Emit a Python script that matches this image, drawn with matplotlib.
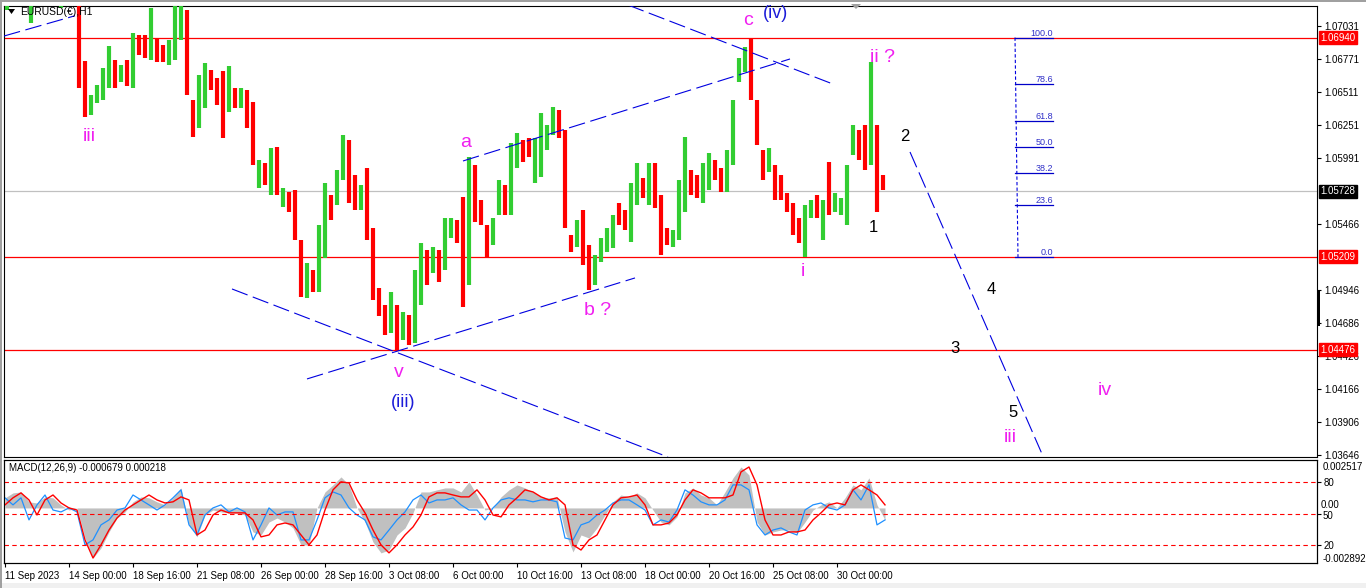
import numpy as np
import matplotlib
matplotlib.use("Agg")
import matplotlib.pyplot as plt
from matplotlib.patches import Rectangle, Polygon

plt.rcParams["font.family"] = ["Liberation Sans", "DejaVu Sans"]

# EURUSD H1 in 6-hour blocks starting 11 Sep 2023
bar_high = [1.0735, 1.0740, 1.0745, 1.0742, 1.0738, 1.0740, 1.0745, 1.0750, 1.0745, 1.0740,
            1.0745, 1.0748, 1.0740, 1.06755, 1.06487, 1.06566, 1.06700, 1.06873, 1.06763, 1.06723,
            1.06763, 1.06976, 1.06960, 1.06960, 1.07173, 1.06936, 1.06881, 1.06921, 1.07197, 1.0728,
            1.07157, 1.06447, 1.06644, 1.06739, 1.06684, 1.06621, 1.06676, 1.06715, 1.06542, 1.06542,
            1.06526, 1.06431, 1.05974, 1.05950, 1.06068, 1.06076, 1.05753, 1.05721, 1.05737, 1.05342,
            1.05161, 1.05106, 1.05461, 1.05792, 1.05698, 1.05895, 1.06171, 1.06131, 1.05855, 1.05777,
            1.05911, 1.05437, 1.04964, 1.04830, 1.04932, 1.04830, 1.04774, 1.04751, 1.05106, 1.05319,
            1.05264, 1.05287, 1.05264, 1.05516, 1.05516, 1.05500, 1.05682, 1.05997, 1.05934, 1.05658,
            1.05461, 1.05516, 1.05816, 1.05777, 1.06108, 1.06187, 1.06131, 1.06147, 1.06147, 1.06345,
            1.06250, 1.06392, 1.06368, 1.06210, 1.05382, 1.05500, 1.05579, 1.05303, 1.05224, 1.05358,
            1.05437, 1.05540, 1.05635, 1.05579, 1.05792, 1.05950, 1.05832, 1.05950, 1.05950, 1.05698,
            1.05437, 1.05421, 1.05816, 1.06155, 1.05895, 1.05855, 1.05950, 1.06029, 1.05974, 1.05911,
            1.06053, 1.06447, 1.06779, 1.06865, 1.06936, 1.06447, 1.06053, 1.06068, 1.05934, 1.05855,
            1.05714, 1.05635, 1.05516, 1.05619, 1.05658, 1.05698, 1.05658, 1.05958, 1.05714, 1.05674,
            1.05934, 1.06250, 1.06210, 1.06250, 1.06747, 1.06250, 1.05855]
bar_low = [1.07157, 1.0725, 1.0728, 1.0726, 1.07055, 1.0724, 1.0728, 1.0730, 1.0725, 1.07173,
           1.0728, 1.0730, 1.06542, 1.06313, 1.06329, 1.06423, 1.06447, 1.06542, 1.06542, 1.06589,
           1.06558, 1.06542, 1.06802, 1.06779, 1.06763, 1.06747, 1.06747, 1.06723, 1.06763, 1.06921,
           1.06487, 1.06155, 1.06226, 1.06384, 1.06526, 1.06408, 1.06147, 1.06352, 1.06384, 1.06384,
           1.06226, 1.05934, 1.05753, 1.05777, 1.05698, 1.05698, 1.05603, 1.05564, 1.05342, 1.04893,
           1.04885, 1.04932, 1.04932, 1.05200, 1.05500, 1.05619, 1.05816, 1.05635, 1.05579, 1.05579,
           1.05342, 1.04869, 1.04743, 1.04593, 1.04609, 1.04475, 1.04554, 1.04514, 1.04530, 1.04830,
           1.04987, 1.05082, 1.05011, 1.05106, 1.05358, 1.05319, 1.04814, 1.04987, 1.05485, 1.05461,
           1.05200, 1.05303, 1.05540, 1.05540, 1.05540, 1.05911, 1.05958, 1.05997, 1.05792, 1.05840,
           1.06053, 1.06171, 1.06147, 1.05437, 1.05248, 1.05287, 1.05145, 1.04948, 1.04987, 1.05169,
           1.05248, 1.05280, 1.05461, 1.05421, 1.05327, 1.05619, 1.05674, 1.05619, 1.05595, 1.05224,
           1.05303, 1.05287, 1.05342, 1.05564, 1.05698, 1.05674, 1.05635, 1.05737, 1.05816, 1.05721,
           1.05721, 1.05934, 1.06589, 1.06668, 1.06447, 1.06092, 1.05816, 1.05879, 1.05658, 1.05658,
           1.05564, 1.05382, 1.05319, 1.05208, 1.05516, 1.05516, 1.05342, 1.05540, 1.05564, 1.05540,
           1.05461, 1.06013, 1.05974, 1.05895, 1.05934, 1.05564, 1.05737]
bar_dir = ("GRGRGRGRGG" "RGRRGGGGRG" "RGRRGRRGGG" "RRGGRRRGRG" "RRGRGRGRRR"
           "GRGGRGGRRG" "RRRRGRGRGG" "RGRGGRRGRR" "RGGRGGRRGG" "GGRRRGRRGG"
           "GGRRGGRGRR" "RGGGRRGGRR" "GGGGRRRGRR" "RRRGGRGRGG" "GGRRGRR")

# MACD(12,26,9) panel, read every 8 bars
macd_hist = [0.00053, 0.00079, 0.00084, 0.00032, 0.00026, 0.00058, 0.00053, 0.00016, -0.00011, 0.0,
             -0.00158, -0.00263, -0.00210, -0.00126, -0.00053, -0.00021, 0.00032, 0.00058, 0.00053, 0.00032,
             0.00016, 0.00053, 0.00105, -0.00089, -0.00152, -0.00037, -0.00011, -0.00021, -0.00026, -0.00026,
             -0.00037, -0.00126, -0.00142, -0.00074, -0.00053, -0.00074, -0.00105, -0.00194, -0.00194, 0.0,
             0.00084, 0.00121, 0.00163, 0.00121, 0.0, -0.00074, -0.00179, -0.00236, -0.00221, -0.00142,
             -0.00105, -0.00026, 0.00084, 0.00084, 0.00095, 0.00105, 0.00105, 0.00084, 0.00137, 0.00068,
             -0.00011, 0.0, 0.00058, 0.00095, 0.00121, 0.00105, 0.00084, 0.00058, 0.00053, 0.00058,
             -0.00126, -0.00231, -0.00142, -0.00158, -0.00105, -0.00037, 0.00032, 0.00068, 0.00058, 0.00079,
             0.00053, -0.00011, -0.00074, -0.00089, -0.00047, 0.00079, 0.00105, 0.00068, 0.00053, 0.00016,
             0.00084, 0.00158, 0.00215, 0.00173, -0.00074, -0.00142, -0.00126, -0.00116, -0.00116, -0.00131,
             -0.00074, -0.00011, 0.00016, 0.00032, 0.0, 0.00053, 0.00121, 0.00095, 0.00158, 0.00016,
             -0.00063]
macd_main = [0.00053, 0.00016, 0.00053, -0.00063, 0.00016, 0.00068, -0.00011, -0.00021, 0.0, -0.00021,
             -0.00194, -0.00168, -0.00089, -0.00063, -0.00011, 0.0, 0.00068, 0.00042, 0.00016, -0.00011,
             0.00016, 0.00053, 0.00095, -0.00089, -0.00142, -0.00037, 0.0, 0.00016, -0.00021, 0.0,
             -0.00021, -0.00168, -0.00089, 0.0, -0.00037, -0.00021, -0.00021, -0.00168, -0.00168, -0.00063,
             0.00053, 0.00084, 0.00068, 0.0, -0.00037, -0.00063, -0.00152, -0.00168, -0.00116, -0.00063,
             -0.00021, 0.00042, 0.00068, 0.00026, 0.00042, 0.00042, 0.00053, 0.00016, -0.00011, -0.00011,
             -0.00063, 0.0, 0.00042, 0.00053, 0.00042, 0.00042, 0.00032, 0.00042, 0.00042, 0.00032,
             -0.00158, -0.00168, -0.00089, -0.00074, -0.00037, -0.00011, 0.00026, 0.00042, 0.00042, 0.00016,
             -0.00011, -0.00089, -0.00063, -0.00074, -0.00011, 0.00095, 0.00068, 0.00032, 0.00016, 0.00016,
             0.00042, 0.00121, 0.00121, 0.00095, -0.00089, -0.00142, -0.00116, -0.00105, -0.00126, -0.00142,
             -0.00011, 0.00016, 0.00026, 0.0, -0.00011, 0.00016, 0.00095, 0.00042, 0.00121, -0.00089,
             -0.00063]
macd_signal = [0.00016, 0.00053, 0.00079, 0.00042, -0.00037, 0.00042, 0.00068, 0.00026, 0.0, -0.00011,
               -0.00168, -0.00263, -0.00194, -0.00116, -0.00053, -0.00011, 0.00016, 0.00042, 0.00068, 0.00042,
               0.00026, 0.00032, 0.00058, 0.00042, -0.00142, -0.00116, -0.00037, -0.00011, -0.00026, -0.00026,
               -0.00026, -0.00063, -0.00152, -0.00142, -0.00089, -0.00079, -0.00089, -0.00142, -0.00194, -0.00142,
               -0.00011, 0.00095, 0.00137, 0.00131, 0.00042, -0.00026, -0.00116, -0.00194, -0.00236, -0.00194,
               -0.00142, -0.00100, -0.00037, 0.00058, 0.00079, 0.00079, 0.00068, 0.00058, 0.00058, 0.00095,
               0.00042, -0.00037, -0.00047, 0.00016, 0.00053, 0.00095, 0.00084, 0.00058, 0.00042, 0.00053,
               0.00016, -0.00194, -0.00221, -0.00168, -0.00142, -0.00063, 0.00016, 0.00053, 0.00058, 0.00068,
               0.00016, -0.00089, -0.00089, -0.00079, -0.00037, 0.00042, 0.00095, 0.00079, 0.00053, 0.00053,
               0.00053, 0.00068, 0.00189, 0.00215, 0.00121, -0.00063, -0.00142, -0.00142, -0.00126, -0.00126,
               -0.00116, -0.00063, -0.00026, 0.00016, 0.00026, 0.00016, 0.00095, 0.00121, 0.00095, 0.00068,
               0.00016]

time_labels = ["11 Sep 2023", "14 Sep 00:00", "18 Sep 16:00", "21 Sep 08:00", "26 Sep 00:00",
               "28 Sep 16:00", "3 Oct 08:00", "6 Oct 00:00", "10 Oct 16:00", "13 Oct 08:00",
               "18 Oct 00:00", "20 Oct 16:00", "25 Oct 08:00", "30 Oct 00:00"]
price_ticks = [1.07031, 1.06771, 1.06511, 1.06251, 1.05991, 1.05466, 1.04946,
               1.04686, 1.04426, 1.04166, 1.03906, 1.03646]
red_levels = [1.06940, 1.05209, 1.04476]
last_price = 1.05728
fib_low, fib_high = 1.05209, 1.06940
fib_pcts = [0.0, 23.6, 38.2, 50.0, 61.8, 78.6, 100.0]

# trend lines: (bar, price) anchors
trend_lines = [((0, 1.06952), (71, 1.07112)),
               ((228, 1.04956), (664, 1.03630)),
               ((303, 1.04246), (631, 1.05043)),
               ((459, 1.05966), (786, 1.06771)),
               ((624, 1.07197), (829, 1.06573)),
               ((906, 1.06037), (1041, 1.03600))]

MAG, BLU, BLK = "#F020F0", "#1C1CD8", "black"
wave_labels = [("iii", 85, 1.06163, MAG, 14), ("a", 462, 1.06108, MAG, 14),
               ("b ?", 594, 1.04790, MAG, 14), ("c", 744, 1.07078, MAG, 14),
               ("(iv)", 772, 1.07126, BLU, 13), ("ii ?", 878, 1.06786, MAG, 14),
               ("v", 395, 1.04293, MAG, 14), ("(iii)", 399, 1.04064, BLU, 13),
               ("i", 799, 1.05090, MAG, 14), ("1", 869, 1.05445, BLK, 12),
               ("2", 901, 1.06163, BLK, 12), ("3", 951, 1.04490, BLK, 12),
               ("4", 987, 1.04948, BLK, 12), ("5", 1009, 1.03985, BLK, 12),
               ("iii", 1006, 1.03780, MAG, 14), ("iv", 1101, 1.04151, MAG, 14)]

W, H = 1366, 588
fig = plt.figure(figsize=(W / 100, H / 100), dpi=100, facecolor="white")


def ftext(px, py, s, **kw):
    fig.text(px / W, 1 - py / H, s, **kw)


ax = fig.add_axes([4 / W, 1 - 457 / H, 1313 / W, 451 / H])
mx = fig.add_axes([4 / W, 1 - 563 / H, 1313 / W, 103 / H])
for a in (ax, mx):
    a.set_xlim(0, 1313)
    for s in a.spines.values():
        s.set_linewidth(0.8)
        s.set_color("black")

# price bars
xb = np.arange(len(bar_high)) * 6 + 3
cols = ["#32CD32" if d == "G" else "#FF0000" for d in bar_dir]
ax.vlines(xb, bar_low, bar_high, colors=cols, linewidth=3.0, zorder=3)

ax.set_ylim(1.03630, 1.07189)
for lv in red_levels:
    ax.axhline(lv, color="#FF0000", lw=0.9, zorder=2)
ax.axhline(last_price, color="#C0C0C0", lw=0.9, zorder=1)

for (x0, y0), (x1, y1) in trend_lines:
    ax.plot([x0, x1], [y0, y1], color="#0000E0", lw=0.8, dashes=(15, 5), zorder=4)

# fibonacci retracement
fx0, fx1 = 1011, 1049
ax.plot([fx0, fx0 + 3], [fib_high, fib_low], color="#0000E0", lw=0.8, dashes=(3, 2), zorder=4)
for pct in fib_pcts:
    lvl = fib_low + (fib_high - fib_low) * pct / 100
    ax.plot([fx0, fx1], [lvl, lvl], color="#0000C8", lw=0.9, zorder=4)
    ax.text(fx1, lvl, f"{pct:.1f}", color="#3030C8", fontsize=6.5, ha="right", va="bottom")

for txt, x, y, c, fs in wave_labels:
    ax.text(x, y, txt, color=c, fontsize=fs, ha="center", va="center",
            clip_on=False, zorder=6)

ax.set_xticks([])
ax.yaxis.tick_right()
ax.set_yticks(price_ticks)
ax.set_yticklabels([f"{p:.5f}" for p in price_ticks])
ax.tick_params(axis="y", length=3, width=0.8, labelsize=7, pad=2)


def price_box(p, bg):
    ax.annotate(f"{p:.5f}", xy=(1, p), xycoords=("axes fraction", "data"),
                xytext=(2.5, 0), textcoords="offset points", ha="left", va="center",
                fontsize=7, color="white",
                bbox=dict(boxstyle="square,pad=0.15", fc=bg, ec=bg), annotation_clip=False)


for lv in red_levels:
    price_box(lv, "#FF0000")
price_box(last_price, "black")

# MACD panel
xm = np.arange(len(macd_hist)) * 8 + 1
mx.fill_between(xm, 0, macd_hist, color="#C0C0C0", lw=0, zorder=1)
mx.plot(xm, macd_main, color="#1E90FF", lw=0.9, zorder=3)
mx.plot(xm, macd_signal, color="#FF0000", lw=1.0, zorder=4)
mx.set_ylim(-0.002892, 0.002517)
mx.set_yticks([])
lv_ax = mx.twinx()
lv_ax.set_ylim(2.9, 101)
for lv in (80, 50, 20):
    lv_ax.axhline(lv, color="#FF0000", lw=0.8, dashes=(4, 3))
lv_ax.set_yticks([80, 50, 20])
lv_ax.set_yticklabels(["80", "", "20"])
lv_ax.tick_params(axis="y", length=3, width=0.8, labelsize=7, pad=2)
for s in lv_ax.spines.values():
    s.set_linewidth(0.8)

mx.set_xticks(np.arange(len(time_labels)) * 64 + 0.7)
mx.set_xticklabels(time_labels, ha="left")
mx.tick_params(axis="x", length=3, width=0.8, labelsize=7, pad=3)

ftext(1323, 467, "0.002517", fontsize=7, va="center")
ftext(1321, 505, "0.00", fontsize=7, va="center")
ftext(1323, 516, "50", fontsize=7, va="center")
ftext(1323, 559, "-0.002892", fontsize=7, va="center")
ftext(9, 468, "MACD(12,26,9) -0.000679 0.000218", fontsize=7, va="center")

# window dressing
ftext(20, 12, "EURUSD(€),H1", fontsize=7.5, va="center")
fig.patches.append(Polygon([[8 / W, 1 - 9 / H], [15 / W, 1 - 9 / H], [11.5 / W, 1 - 14 / H]],
                           closed=True, transform=fig.transFigure, fc="black", ec="none"))
fig.patches.append(Polygon([[851 / W, 1 - 4 / H], [861 / W, 1 - 4 / H], [856 / W, 1 - 9 / H]],
                           closed=True, transform=fig.transFigure, fc="#A0A0A0", ec="none"))
fig.patches.append(Rectangle((1317 / W, 1 - 326 / H), 3 / W, 36 / H,
                             transform=fig.transFigure, fc="black", ec="none"))
fig.patches.append(Rectangle((0, 0), 1, 5 / H, transform=fig.transFigure, fc="#F0F0F0", ec="none"))
fig.patches.append(Rectangle((0, 0), 2 / W, 1, transform=fig.transFigure, fc="#A0A0A0", ec="none"))
fig.patches.append(Rectangle((0, 1 - 2 / H), 1, 2 / H, transform=fig.transFigure, fc="#A0A0A0", ec="none"))

fig.savefig("out.png", dpi=100, facecolor="white")
